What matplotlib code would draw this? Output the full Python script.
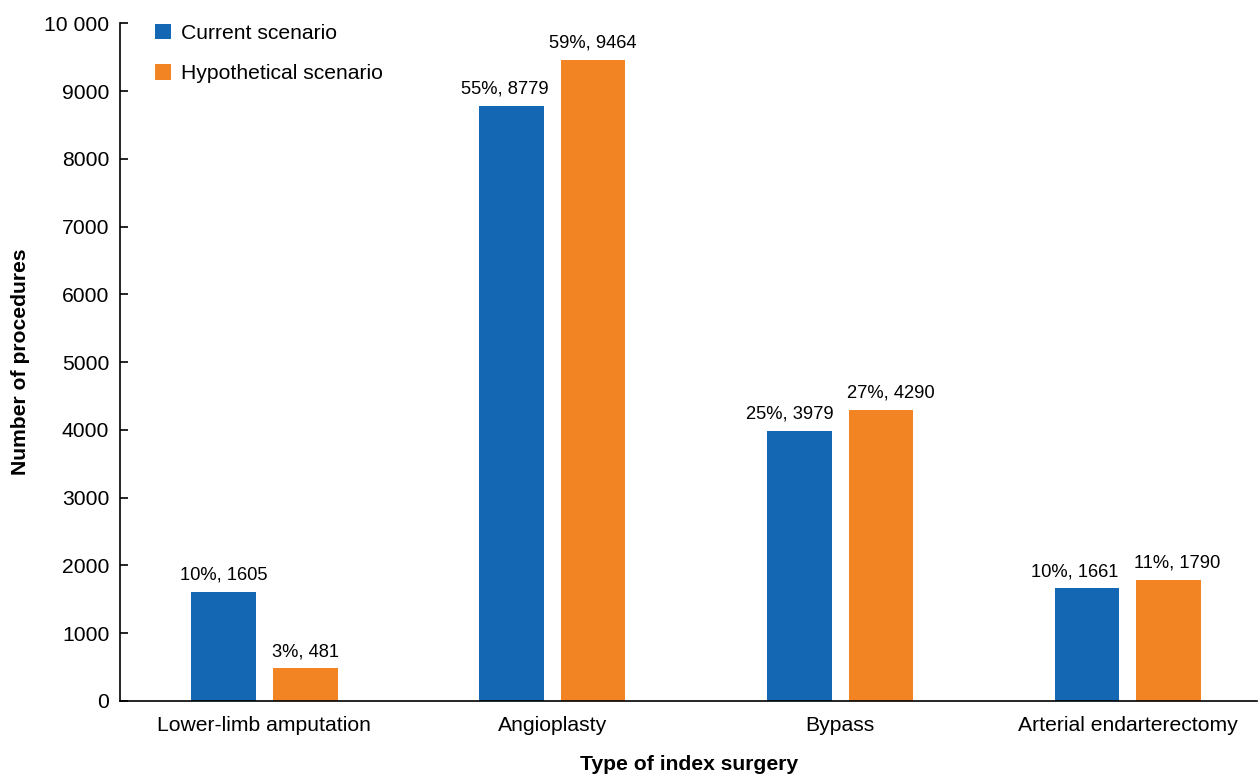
import matplotlib
matplotlib.use('Agg')
from matplotlib import pyplot as plt
import numpy as np

plt.rcParams['font.family'] = ['Liberation Sans', 'DejaVu Sans']

categories = ['Lower-limb amputation', 'Angioplasty', 'Bypass', 'Arterial endarterectomy']
current = [1605, 8779, 3979, 1661]
hypothetical = [481, 9464, 4290, 1790]
current_pct = ['10%', '55%', '25%', '10%']
hypothetical_pct = ['3%', '59%', '27%', '11%']
yticks = [0, 1000, 2000, 3000, 4000, 5000, 6000, 7000, 8000, 9000, 10000]
ytick_labels = ['0', '1000', '2000', '3000', '4000', '5000', '6000', '7000', '8000', '9000', '10 000']

# small sideways nudges (in points) so neighbouring labels do not collide
current_nudge = [0, -5, -7, -9]
hypothetical_nudge = [0, 0, 7, 6]

blue = '#1467b2'
orange = '#f28424'

fig = plt.figure(figsize=(12.6, 7.75), dpi=100)
ax = fig.add_axes([0.0956, 0.0955, 0.9024, 0.8745])

x = np.arange(len(categories))
w = 0.225
off = 0.142
b1 = ax.bar(x - off, current, w, color=blue, label='Current scenario')
b2 = ax.bar(x + off, hypothetical, w, color=orange, label='Hypothetical scenario')

for rect, v, p, dx in zip(b1, current, current_pct, current_nudge):
    ax.annotate(f'{p}, {v}', (rect.get_x() + rect.get_width() / 2, v),
                xytext=(dx, 6), textcoords='offset points', ha='center', va='bottom', fontsize=13.2)
for rect, v, p, dx in zip(b2, hypothetical, hypothetical_pct, hypothetical_nudge):
    ax.annotate(f'{p}, {v}', (rect.get_x() + rect.get_width() / 2, v),
                xytext=(dx, 6), textcoords='offset points', ha='center', va='bottom', fontsize=13.2)

ax.set_xlim(-0.5, 3.45)
ax.set_ylim(0, 10000)
ax.set_yticks(yticks)
ax.set_yticklabels(ytick_labels, fontsize=15.2)
ax.set_xticks(x)
ax.set_xticklabels(categories, fontsize=15.2)
ax.tick_params(axis='x', length=0, pad=11)
ax.tick_params(axis='y', direction='in', length=6, width=1.2, pad=8)
ax.spines['top'].set_visible(False)
ax.spines['right'].set_visible(False)
ax.spines['left'].set_linewidth(1.2)
ax.spines['bottom'].set_linewidth(1.2)

ax.set_xlabel('Type of index surgery', fontsize=15.2, fontweight='bold', labelpad=14)
ax.set_ylabel('Number of procedures', fontsize=15.2, fontweight='bold', labelpad=10)

ax.legend(loc='upper left', bbox_to_anchor=(0.014, 1.027), frameon=False, fontsize=15.2,
          handlelength=0.75, handleheight=0.75, handletextpad=0.45, labelspacing=1.0)

fig.savefig('out.png', dpi=100)
